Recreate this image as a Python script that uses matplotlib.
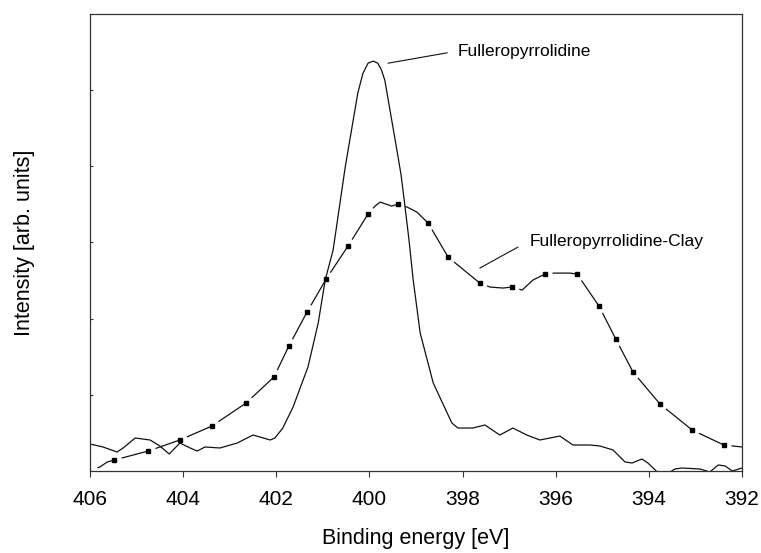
import matplotlib
matplotlib.use("Agg")
import matplotlib.pyplot as plt

plt.rcParams['font.family'] = ['Liberation Sans', 'DejaVu Sans']
plt.rcParams['lines.scale_dashes'] = False

# Fulleropyrrolidine (solid line)
pure_x = [406.00, 405.72, 405.42, 405.29, 405.03, 404.71, 404.50, 404.30, 404.07, 403.85,
          403.70, 403.53, 403.21, 402.84, 402.50, 402.13, 402.03, 401.86, 401.64, 401.32,
          401.10, 400.95, 400.78, 400.52, 400.25, 400.14, 400.03, 399.92, 399.82, 399.74,
          399.67, 399.41, 399.32, 399.24, 399.15, 399.06, 398.91, 398.63, 398.23, 398.10,
          397.78, 397.52, 397.20, 396.92, 396.62, 396.34, 395.91, 395.63, 395.26, 395.05,
          394.77, 394.51, 394.36, 394.15, 394.02, 393.82, 393.65, 393.44, 393.29, 392.90,
          392.69, 392.51, 392.36, 392.21, 392.00]
pure_y = [0.354, 0.315, 0.249, 0.302, 0.433, 0.407, 0.328, 0.223, 0.367, 0.302,
          0.262, 0.315, 0.302, 0.367, 0.472, 0.407, 0.433, 0.564, 0.840, 1.365,
          1.942, 2.507, 2.900, 3.990, 4.961, 5.220, 5.354, 5.381, 5.354, 5.262,
          5.131, 4.213, 3.885, 3.491, 3.031, 2.507, 1.811, 1.155, 0.630, 0.564,
          0.564, 0.604, 0.472, 0.564, 0.472, 0.407, 0.459, 0.341, 0.341, 0.328,
          0.276, 0.118, 0.105, 0.157, 0.105, -0.013, -0.052, 0.026, 0.039, 0.026,
          -0.013, 0.079, 0.066, 0.000, 0.039]

# Fulleropyrrolidine-Clay (dashed line with square markers)
clay_x = [406.00, 405.79, 405.63, 405.48, 404.75, 404.07, 403.38, 402.65, 402.05, 401.73,
          401.34, 400.93, 400.46, 400.03, 399.88, 399.77, 399.52, 399.39, 399.19, 398.98,
          398.74, 398.31, 397.63, 397.41, 397.13, 396.94, 396.72, 396.49, 396.23, 396.06,
          395.69, 395.54, 395.07, 394.71, 394.34, 393.76, 393.07, 392.39, 392.00]
clay_y = [0.013, 0.052, 0.118, 0.144, 0.262, 0.407, 0.591, 0.892, 1.234, 1.640,
          2.087, 2.520, 2.953, 3.373, 3.478, 3.530, 3.478, 3.504, 3.465, 3.399,
          3.255, 2.808, 2.467, 2.415, 2.402, 2.415, 2.375, 2.507, 2.585, 2.598,
          2.598, 2.585, 2.165, 1.732, 1.299, 0.879, 0.538, 0.341, 0.315]
clay_marks = [3, 4, 5, 6, 7, 8, 9, 10, 11, 12, 13, 17, 20, 21, 22, 25, 28, 31, 32, 33, 34, 35, 36, 37]

xticks = [406, 404, 402, 400, 398, 396, 394, 392]

fig = plt.figure(figsize=(7.61, 5.53), dpi=100)
ax = fig.add_axes([0.1183, 0.1483, 0.8567, 0.8264])

ink = '#111111'
ax.plot(pure_x, pure_y, color=ink, lw=0.9)

# each piece between markers starts with a small gap, then a dash up to the marker
cuts = [0] + clay_marks + [len(clay_x) - 1]
for a, b in zip(cuts[:-1], cuts[1:]):
    if b <= a:
        continue
    ax.plot(clay_x[a:b + 1], clay_y[a:b + 1], color=ink, lw=0.9,
            linestyle=(300, (300, 5.5)))
ax.plot([clay_x[i] for i in clay_marks], [clay_y[i] for i in clay_marks],
        linestyle='none', marker='s', ms=2.6, color='black')

ax.annotate('Fulleropyrrolidine', xy=(399.60, 5.354), xytext=(398.10, 5.51),
            fontsize=12.5, va='center', ha='left',
            arrowprops=dict(arrowstyle='-', color=ink, lw=0.8, shrinkA=0, shrinkB=0,
                            relpos=(-0.08, 0.4)))
ax.annotate('Fulleropyrrolidine-Clay', xy=(397.63, 2.664), xytext=(396.55, 3.018),
            fontsize=12.5, va='center', ha='left',
            arrowprops=dict(arrowstyle='-', color=ink, lw=0.8, shrinkA=0, shrinkB=0,
                            relpos=(-0.07, 0.1)))

ax.set_xlim(406, 392)
ax.set_ylim(0, 6)
ax.set_xticks(xticks)
ax.set_xticklabels([str(v) for v in xticks])
ax.set_yticks([1, 2, 3, 4, 5])
ax.set_yticklabels([])
ax.tick_params(axis='x', direction='out', length=4.5, width=0.8, labelsize=15, pad=9, color='#333333')
ax.tick_params(axis='y', direction='in', length=2.2, width=0.8, color='#333333')
for sp in ax.spines.values():
    sp.set_color('#333333')
    sp.set_linewidth(0.9)

ax.set_xlabel('Binding energy [eV]', fontsize=15.5)
ax.xaxis.set_label_coords(0.5, -0.125)
ax.set_ylabel('Intensity [arb. units]', fontsize=15.5)
ax.yaxis.set_label_coords(-0.084, 0.5)

fig.savefig('out.png', dpi=100)
